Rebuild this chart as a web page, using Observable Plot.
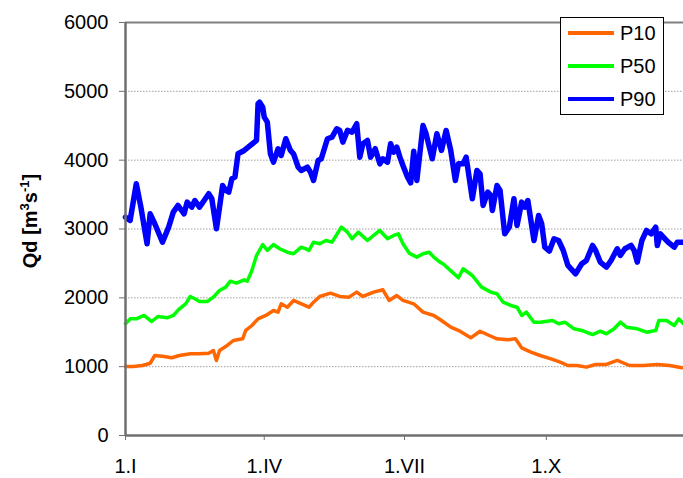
<!DOCTYPE html>
<html><head><meta charset="utf-8">
<script src="https://cdn.jsdelivr.net/npm/d3@7"></script>
<script src="https://cdn.jsdelivr.net/npm/@observablehq/plot@0.6"></script>
<style>
body{margin:0;background:#fff;}
#wrap{position:relative;width:683px;height:478px;font-family:"Liberation Sans",Arial,sans-serif;overflow:hidden;}
#legend{position:absolute;left:560px;top:17px;width:104px;height:98px;border:1px solid #000;background:#fff;box-sizing:border-box;}
.li{position:absolute;left:7px;height:20px;display:flex;align-items:center;font-size:20px;color:#000;}
.li span.sw{display:inline-block;width:46px;height:4px;margin-right:6px;}
#ytitle{position:absolute;left:30px;top:221px;transform:translate(-50%,-50%) rotate(-90deg);font-weight:bold;font-size:20px;white-space:nowrap;color:#000;}
#ytitle sup{font-size:13px;vertical-align:8px;line-height:0;}
</style></head><body><div id="wrap"></div>
<script>
// x: day of year, y: discharge Qd [m3 s-1]
const p10Day = [1,6,12,17,20,26,31,36,43,49,55,58,60,62,67,71,77,79,83,87,92,97,100,102,106,110,114,120,123,127,134,140,146,151,155,162,168,172,177,181,188,194,201,206,212,218,225,231,237,242,249,254,258,264,270,277,283,288,294,300,306,313,320,328,337,346,354,362];
const p10Val = [1003,1003,1017,1050,1162,1148,1129,1162,1187,1187,1196,1235,1090,1235,1308,1380,1405,1526,1598,1695,1744,1816,1792,1913,1864,1962,1922,1864,1937,2020,2068,2020,2010,2083,2020,2083,2117,1962,2034,1962,1913,1792,1744,1671,1574,1515,1419,1515,1453,1405,1390,1405,1274,1211,1162,1114,1065,1017,1017,993,1032,1032,1090,1017,1017,1032,1017,983];

const p50Day = [1,4,8,13,18,22,28,32,36,40,43,46,49,54,58,62,66,69,73,78,80,83,86,90,93,97,101,106,110,115,118,120,123,127,131,135,141,145,148,152,158,162,166,171,175,178,181,185,190,194,198,201,205,207,213,217,220,226,232,238,242,246,251,255,258,261,266,270,278,282,286,292,297,304,309,313,318,322,326,333,339,345,347,352,357,360,363];
const p50Val = [1623,1695,1695,1744,1656,1729,1710,1744,1841,1913,2020,1986,1947,1947,2010,2107,2155,2242,2213,2262,2242,2398,2615,2775,2688,2775,2713,2663,2640,2736,2713,2688,2809,2785,2833,2809,3027,2954,2858,2954,2833,2906,2979,2858,2906,2930,2785,2650,2591,2640,2663,2591,2519,2495,2373,2291,2422,2325,2155,2083,2059,1937,1889,1864,1744,1792,1646,1646,1671,1623,1646,1550,1526,1467,1515,1478,1550,1646,1574,1550,1501,1526,1671,1671,1598,1695,1623];

const p90Day = [1,4,8,11,15,17,20,25,29,32,35,39,41,44,46,49,52,55,57,60,64,66,68,70,72,74,78,82,86,87,88,90,91,93,95,97,100,102,105,108,110,113,115,119,121,123,126,128,132,135,138,140,142,145,148,151,153,155,158,160,163,166,168,171,173,175,177,179,181,184,186,188,190,194,196,200,203,206,209,212,215,217,220,222,226,229,231,233,236,238,239,242,244,247,250,253,255,258,260,262,266,269,271,273,276,279,282,285,288,293,297,300,304,306,309,313,316,320,322,325,329,331,333,336,339,342,345,346,348,351,353,357,359,363];
const p90Val = [3172,3124,3657,3317,2785,3221,3076,2809,3027,3245,3342,3221,3390,3317,3414,3317,3414,3512,3439,3003,3632,3560,3535,3730,3753,4093,4141,4214,4286,4820,4843,4770,4625,4552,4093,3971,4166,4068,4311,4141,4093,3898,3850,3898,3826,3705,3996,4020,4311,4335,4456,4432,4262,4432,4407,4529,4044,4238,4286,4044,4166,3947,4020,3971,4238,4117,4190,4044,3923,3753,3670,4130,3705,4504,4383,4020,4383,4141,4432,4141,3705,3947,3947,4044,3439,3850,3802,3342,3535,3487,3269,3632,3560,2930,3027,3439,3051,3390,3317,3414,2833,3197,3076,2736,2680,2858,2833,2688,2470,2349,2495,2543,2761,2688,2519,2446,2543,2713,2616,2713,2761,2688,2519,2833,2979,2930,3027,2761,2930,2858,2809,2736,2809,2809];

const seriesNames = ["P10","P50","P90"];
const seriesColors = ["#ff6600","#00ff00","#0000ff"];
const seriesWidths = [3.5,3.5,5.5];
const yTicks = [0,1000,2000,3000,4000,5000,6000];
const gridVals = [1000,2000,3000,4000,5000];
const xTicks = [1,91,182,274];
const xLabels = ["1.I","1.IV","1.VII","1.X"];

const toRows = (days, vals) => days.map((d, i) => ({day: d, q: vals[i]}));
const series = [toRows(p10Day, p10Val), toRows(p50Day, p50Val), toRows(p90Day, p90Val)];

const chart = Plot.plot({
  width: 683, height: 478,
  marginLeft: 125, marginRight: 0, marginTop: 22, marginBottom: 43,
  x: {domain: [1, 363]},
  y: {domain: [0, 6000]},
  style: {fontFamily: "'Liberation Sans', Arial, sans-serif", fontSize: "20px", color: "#000", background: "#fff"},
  marks: [
    Plot.ruleY(gridVals, {stroke: "#a0a0a0", strokeDasharray: "1.5,1.5", strokeWidth: 1}),
    Plot.ruleY([6000], {stroke: "#808080", strokeWidth: 2}),
    ...series.map((s, i) => Plot.line(s, {x: "day", y: "q", stroke: seriesColors[i], strokeWidth: seriesWidths[i], strokeLinejoin: "round"})),
    Plot.ruleX([1], {stroke: "#707070", strokeWidth: 2.5}),
    Plot.ruleY([0], {stroke: "#707070", strokeWidth: 2.5}),
    Plot.axisY({ticks: yTicks, tickSize: 6, tickPadding: 11, label: null, fontSize: 20, stroke: "#707070", tickFormat: d => String(d)}),
    Plot.axisX({ticks: xTicks, tickFormat: (d, i) => xLabels[xTicks.indexOf(d)], tickSize: 5, tickPadding: 18, label: null, fontSize: 20, stroke: "#707070"})
  ]
});
const wrap = document.getElementById("wrap");
wrap.appendChild(chart);

const yt = document.createElement("div");
yt.id = "ytitle";
yt.innerHTML = "Qd [m<sup>3</sup>s<sup>-1</sup>]";
wrap.appendChild(yt);

const lg = document.createElement("div");
lg.id = "legend";
const tops = [5, 38, 71];
seriesNames.forEach((n, i) => {
  const it = document.createElement("div");
  it.className = "li";
  it.style.top = tops[i] + "px";
  it.innerHTML = `<span class="sw" style="background:${seriesColors[i]}"></span>${n}`;
  lg.appendChild(it);
});
wrap.appendChild(lg);
</script>
</body></html>
